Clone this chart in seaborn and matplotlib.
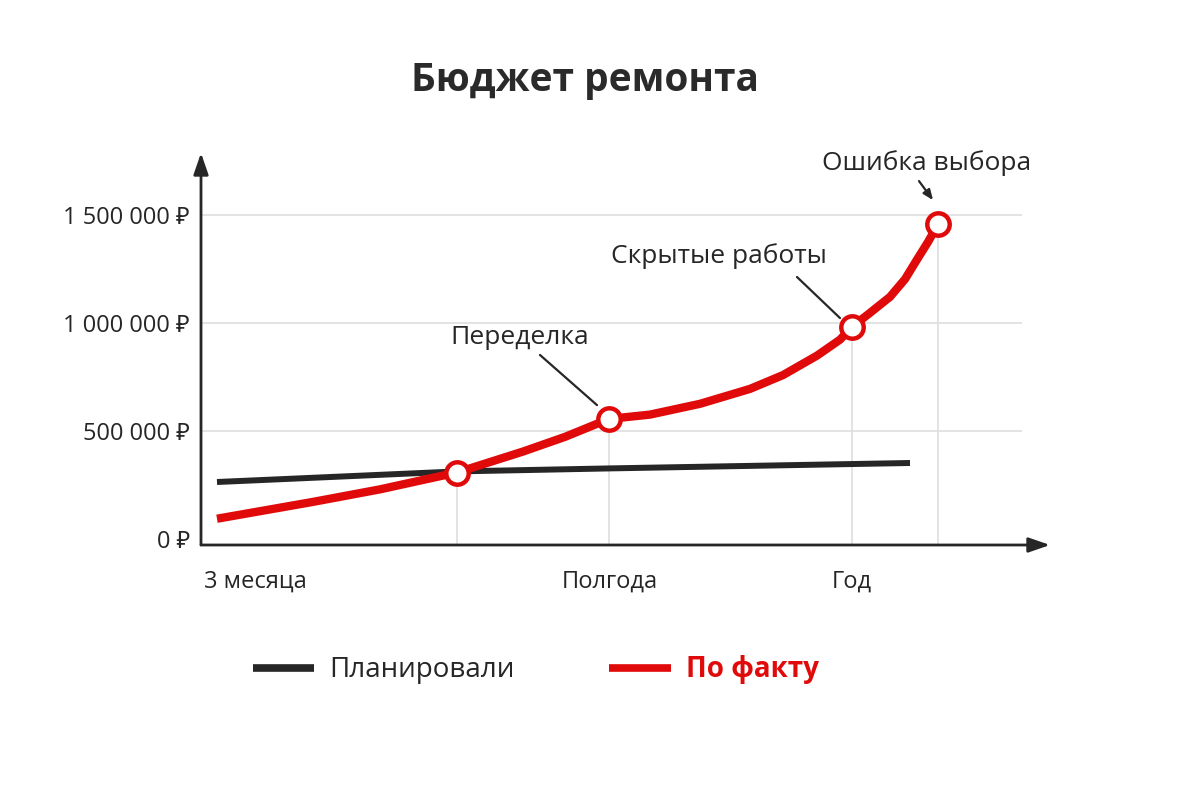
import matplotlib
matplotlib.use('Agg')
import matplotlib.pyplot as plt
import seaborn as sns
from matplotlib.lines import Line2D

# data (x = position on time axis, y = rubles, millions)
fact_x = [1.6, 11.2, 17.9, 25.6, 32.2, 36.4, 40.8, 44.9, 49.9, 54.9, 58.2, 61.6,
          63.9, 65.1, 66.9, 68.9, 70.4, 71.7, 72.7, 73.7]
fact_y = [0.092, 0.17, 0.228, 0.306, 0.403, 0.471, 0.554, 0.574, 0.624, 0.693, 0.757,
          0.847, 0.921, 0.98, 1.045, 1.119, 1.201, 1.299, 1.373, 1.455]
plan_x = [1.6, 25.6, 40.9, 70.9]
plan_y = [0.262, 0.311, 0.325, 0.35]

key_x = [25.6, 40.8, 65.1, 73.7]
key_y = [0.306, 0.554, 0.98, 1.455]

x_ticks = [5.4, 40.9, 65.1]
x_labels = ['3 месяца', 'Полгода', 'Год']
y_ticks = [0, 0.5, 1.0, 1.5]
y_labels = ['0 ₽', '500 000 ₽', '1 000 000 ₽', '1 500 000 ₽']

notes = ['Переделка', 'Скрытые работы', 'Ошибка выбора']
note_pos = [(31.9, 0.933), (51.8, 1.308), (72.6, 1.739)]
note_line = [((33.9, 0.85), (39.6, 0.618)),
             ((59.6, 1.211), (63.9, 1.021)),
             ((71.8, 1.655), (73.2, 1.567))]

RED = '#e10a0a'
DARK = '#262626'
GRID = '#dedede'

sns.set_style('white')
plt.rcParams['font.family'] = ['Open Sans', 'Noto Sans', 'DejaVu Sans']

fig = plt.figure(figsize=(12, 8), dpi=100)
fig.patch.set_facecolor('white')
ax = fig.add_axes([201 / 1200, 1 - 545 / 800, 849 / 1200, 392 / 800])
ax.set_xlim(0, 84.9)
ax.set_ylim(-0.0296, 1.785)

# grid lines and drop lines
ax.hlines(y_ticks[1:], 0, 82.1, color=GRID, lw=1.2, zorder=1)
ax.vlines(key_x, -0.0296, key_y, color=GRID, lw=1.2, zorder=1)

sns.lineplot(x=plan_x, y=plan_y, ax=ax, color=DARK, lw=4.3, sort=False, zorder=3)
sns.lineplot(x=fact_x, y=fact_y, ax=ax, color=RED, lw=6, sort=False, zorder=4)
for l in ax.lines:
    l.set_solid_capstyle('butt')
    l.set_solid_joinstyle('round')
sns.scatterplot(x=key_x, y=key_y, ax=ax, s=260, color='white', edgecolor=RED,
                linewidth=3.2, zorder=5)

# axes with arrows
for s in ax.spines.values():
    s.set_visible(False)
arr = dict(arrowstyle='-|>,head_length=1.3,head_width=0.45', lw=2, color=DARK,
           shrinkA=0, shrinkB=0, mutation_scale=10)
ax.annotate('', xy=(1, 0), xytext=(0, 0), xycoords='axes fraction', arrowprops=arr)
ax.annotate('', xy=(0, 1), xytext=(0, 0), xycoords='axes fraction', arrowprops=arr)

ax.set_xticks(x_ticks)
ax.set_xticklabels(x_labels)
ax.set_yticks(y_ticks)
ax.set_yticklabels(y_labels)
ax.tick_params(axis='y', length=0, pad=8, labelsize=17, labelcolor=DARK)
ax.tick_params(axis='x', length=0, pad=18, labelsize=17, labelcolor=DARK)
ax.set_xlabel('')
ax.set_ylabel('')

# annotations
for txt, (tx, ty), (p0, p1) in zip(notes, note_pos, note_line):
    ax.text(tx, ty, txt, ha='center', va='center', fontsize=19, color=DARK)
    style = '-|>,head_length=0.6,head_width=0.25' if txt == 'Ошибка выбора' else '-'
    ax.annotate('', xy=p1, xytext=p0,
                arrowprops=dict(arrowstyle=style, lw=1.6, color=DARK,
                                shrinkA=0, shrinkB=0, mutation_scale=10))

fig.text(585 / 1200, 1 - 80 / 800, 'Бюджет ремонта', ha='center', va='center',
         fontsize=28, fontweight='bold', color='#2a2a2a')

handles = [Line2D([], [], color=DARK, lw=5.5, solid_capstyle='butt'),
           Line2D([], [], color=RED, lw=5.5, solid_capstyle='butt')]
leg = fig.legend(handles=handles, labels=['Планировали', 'По факту'], loc='center',
                 bbox_to_anchor=(536 / 1200, 1 - 670 / 800), ncol=2, frameon=False,
                 fontsize=20, handlelength=2.2, handletextpad=0.55, columnspacing=3.4)
leg.get_texts()[0].set_color(DARK)
leg.get_texts()[1].set_color(RED)
leg.get_texts()[1].set_fontweight('bold')

fig.savefig('out.png', dpi=100, facecolor='white')
